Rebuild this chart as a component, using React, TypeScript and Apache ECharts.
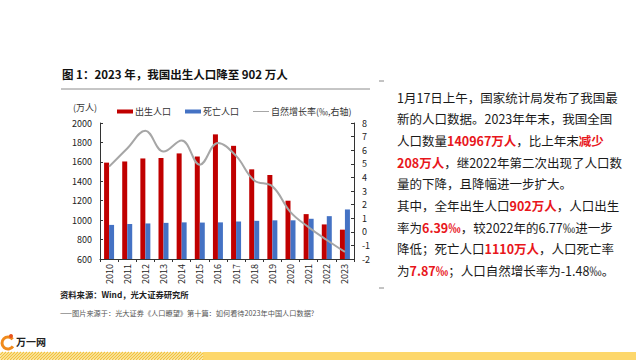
import React, { useEffect, useRef } from "react";
import * as echarts from "echarts";

const years = ["2010","2011","2012","2013","2014","2015","2016","2017","2018","2019","2020","2021","2022","2023"];
const births = [1592, 1604, 1635, 1640, 1687, 1655, 1883, 1765, 1523, 1465, 1200, 1062, 956, 902];
const deaths = [951, 960, 966, 972, 977, 975, 977, 986, 993, 998, 998, 1014, 1041, 1110];
const growthRate = [4.79, 6.13, 7.43, 5.9, 6.71, 4.93, 6.53, 5.58, 3.78, 3.34, 1.45, 0.34, -0.6, -1.48];

const titleText = "图 1：2023 年，我国出生人口降至 902 万人";
const unitText = "(万人)";
const sourceText = "资料来源：Wind，光大证券研究所";
const footText = "——图片来源于：光大证券《人口瞭望》第十篇：如何看待2023年中国人口数据?";

// paragraph lines: [text, isRed]
const paraLines: [string, boolean][][] = [
  [["1月17日上午，国家统计局发布了我国最", false]],
  [["新的人口数据。2023年年末，我国全国", false]],
  [["人口数量", false], ["140967万人", true], ["，比上年末", false], ["减少", true]],
  [["208万人", true], ["，继2022年第二次出现了人口数", false]],
  [["量的下降，且降幅进一步扩大。", false]],
  [["其中，全年出生人口", false], ["902万人", true], ["，人口出生", false]],
  [["率为", false], ["6.39‰", true], ["，较2022年的6.77‰进一步", false]],
  [["降低；死亡人口", false], ["1110万人", true], ["，人口死亡率", false]],
  [["为", false], ["7.87‰", true], ["；人口自然增长率为-1.48‰。", false]],
];

const FONT = "'Noto Sans CJK SC', 'Noto Sans', sans-serif";

export default function App() {
  const ref = useRef<HTMLDivElement>(null);
  useEffect(() => {
    document.body.style.margin = "0";
    const chart = echarts.init(ref.current!, null, { renderer: "svg" });

    const graphics: any[] = [];
    graphics.push({
      type: "text", x: 62, y: 74,
      style: { text: titleText, fill: "#111", font: `bold 11.5px ${FONT}`, textVerticalAlign: "middle" },
    });
    graphics.push({
      type: "line", shape: { x1: 61, y1: 89, x2: 370, y2: 89 },
      style: { stroke: "#8c8c8c", lineWidth: 1 },
    });
    graphics.push({
      type: "text", x: 73, y: 107,
      style: { text: unitText, fill: "#333", font: `9px ${FONT}`, textVerticalAlign: "middle" },
    });
    graphics.push({
      type: "text", x: 60, y: 294,
      style: { text: sourceText, fill: "#222", font: `bold 8.3px ${FONT}`, textVerticalAlign: "middle" },
    });
    graphics.push({
      type: "text", x: 60, y: 313,
      style: { text: footText, fill: "#555", font: `7.2px ${FONT}`, textVerticalAlign: "middle" },
    });
    paraLines.forEach((segs, i) => {
      const txt = segs.map(([t, r]) => `{${r ? "r" : "n"}|${t}}`).join("");
      graphics.push({
        type: "text", x: 397, y: 97 + i * 21.7,
        style: {
          text: txt,
          textVerticalAlign: "middle",
          rich: {
            n: { fill: "#1a1a1a", font: `12.5px ${FONT}` },
            r: { fill: "#e8161b", font: `bold 12.5px ${FONT}` },
          },
        },
      });
    });
    graphics.push({ type: "line", shape: { x1: 379, y1: 81, x2: 384, y2: 81 }, style: { stroke: "#888", lineWidth: 1 } });
    graphics.push({ type: "line", shape: { x1: 379, y1: 288, x2: 384, y2: 288 }, style: { stroke: "#888", lineWidth: 1 } });

    // bottom band
    graphics.push({ type: "rect", shape: { x: 203, y: 352, width: 433, height: 8 }, style: { fill: "#fdd76b" } });
    graphics.push({ type: "rect", shape: { x: 0, y: 352, width: 203, height: 8 }, style: { fill: "#fdf3d0" } });
    const hatch: any[] = [];
    for (let x = -8; x < 203; x += 3) {
      const x2 = Math.min(x + 8, 203);
      const x1 = x;
      hatch.push({
        type: "line",
        shape: { x1: Math.max(x1, 0), y1: 360 - (Math.max(x1, 0) - x1), x2, y2: 360 - (x2 - x1) },
        style: { stroke: "#f2c33c", lineWidth: 1.2 },
      });
    }
    graphics.push({ type: "group", children: hatch });

    // logo
    graphics.push({
      type: "arc", shape: { cx: 8, cy: 343, r: 6, startAngle: 0.6, endAngle: 5.6 },
      style: { stroke: "#f08a1c", lineWidth: 3, fill: null },
    });
    graphics.push({ type: "circle", shape: { cx: 11, cy: 336, r: 2 }, style: { fill: "#e8531c" } });
    graphics.push({
      type: "text", x: 16, y: 341,
      style: { text: "万一网", fill: "#222", font: `bold 10px ${FONT}`, textVerticalAlign: "middle" },
    });

    chart.setOption({
      animation: false,
      textStyle: { fontFamily: FONT },
      grid: { left: 100, right: 282, top: 123, bottom: 101, containLabel: false },
      legend: {
        left: 112, top: 102,
        itemWidth: 16, itemHeight: 4, itemGap: 14,
        textStyle: { fontSize: 9, color: "#333", padding: [0, 0, 0, -3] },
        data: [
          { name: "出生人口", icon: "rect" },
          { name: "死亡人口", icon: "rect" },
          { name: "自然增长率(‰,右轴)", icon: "path://M0,0h32v2h-32z", itemStyle: { color: "#a6a6a6" } },
        ],
      },
      xAxis: {
        type: "category",
        data: years,
        axisLine: { onZero: false, lineStyle: { color: "#333", width: 1 } },
        axisTick: { show: true, length: 3, lineStyle: { color: "#333" } },
        axisLabel: { rotate: 90, fontSize: 9, color: "#222", margin: 5 },
      },
      yAxis: [
        {
          type: "value", min: 600, max: 2000, interval: 200,
          splitLine: { show: false },
          axisLine: { show: true, lineStyle: { color: "#333" } },
          axisTick: { show: true, inside: true, length: 3, lineStyle: { color: "#333" } },
          axisLabel: { fontSize: 9, color: "#222", margin: 8, formatter: (v: number) => String(v) },
        },
        {
          type: "value", min: -2, max: 8, interval: 1,
          splitLine: { show: false },
          axisLine: { show: true, lineStyle: { color: "#333" } },
          axisTick: { show: true, inside: true, length: 3, lineStyle: { color: "#333" } },
          axisLabel: { fontSize: 9, color: "#222", margin: 8, formatter: (v: number) => String(v) },
        },
      ],
      series: [
        {
          name: "出生人口", type: "bar", data: births, barWidth: 5, barGap: "0%",
          itemStyle: { color: "#c00000" },
        },
        {
          name: "死亡人口", type: "bar", data: deaths, barWidth: 5, barGap: "0%",
          itemStyle: { color: "#4472c4" },
        },
        {
          name: "自然增长率(‰,右轴)", type: "line", yAxisIndex: 1, data: growthRate,
          smooth: 0.4, symbol: "none",
          lineStyle: { color: "#a6a6a6", width: 2 },
          itemStyle: { color: "#a6a6a6" },
        },
      ],
      graphic: graphics,
    });
    return () => chart.dispose();
  }, []);
  return <div ref={ref} style={{ position: "absolute", left: 0, top: 0, width: 636, height: 360, background: "#fff" }} />;
}
